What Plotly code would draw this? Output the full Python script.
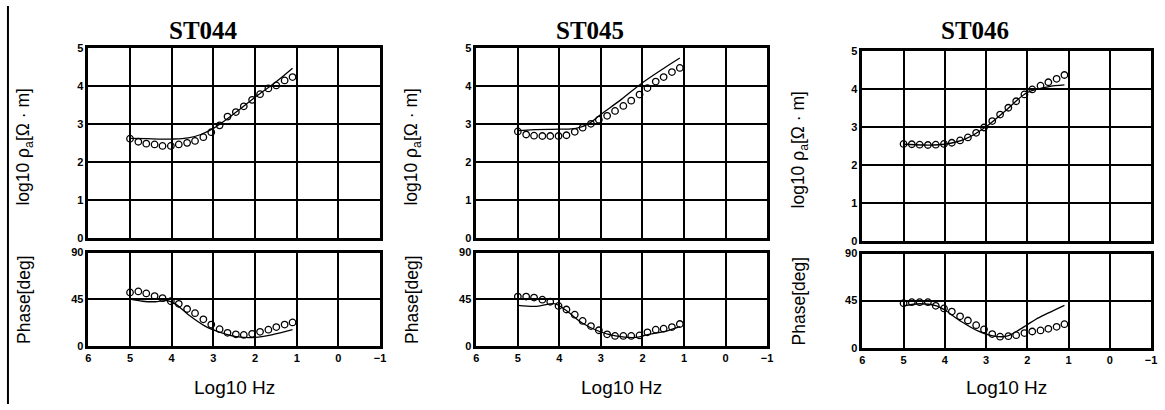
import plotly.graph_objects as go

# ---------------- data ----------------
stations = ["ST044", "ST045", "ST046"]

# observed log10 frequency
freq_obs = [5.0, 4.8, 4.61, 4.41, 4.22, 4.02, 3.83, 3.63, 3.44, 3.24, 3.05,
            2.85, 2.66, 2.46, 2.27, 2.07, 1.88, 1.68, 1.49, 1.29, 1.1]

rho_obs_044 = [2.61, 2.53, 2.48, 2.46, 2.42, 2.42, 2.46, 2.50, 2.55, 2.65, 2.78,
               2.96, 3.19, 3.31, 3.46, 3.63, 3.78, 3.93, 4.01, 4.14, 4.23]
rho_obs_045 = [2.80, 2.72, 2.69, 2.68, 2.68, 2.68, 2.70, 2.79, 2.90, 3.00, 3.11,
               3.21, 3.34, 3.47, 3.61, 3.77, 3.94, 4.11, 4.23, 4.36, 4.47]
rho_obs_046 = [2.55, 2.54, 2.53, 2.52, 2.53, 2.55, 2.58, 2.64, 2.72, 2.84, 2.98,
               3.15, 3.32, 3.50, 3.67, 3.85, 3.98, 4.08, 4.17, 4.26, 4.36]

phs_obs_044 = [51.5, 52.5, 50.5, 48, 46, 43, 40.5, 35.5, 31.5, 25.5, 20.5,
               16, 12.5, 11, 10.5, 11.5, 13.5, 15.5, 18, 20.5, 22.5]
phs_obs_045 = [47.5, 47.5, 46.5, 44.5, 42.5, 38.5, 35, 30, 24, 19, 15,
               11, 9.5, 9.5, 9.5, 10, 13, 15.5, 16.5, 18, 21]
phs_obs_046 = [42.5, 43.5, 43.5, 43.5, 40, 37.5, 34.5, 30, 26, 21.5, 17.5,
               13, 10.5, 11, 12, 14, 15.5, 16.5, 18, 20, 22.5]

# model curves
rho_mod_f_044 = [5.0, 4.6, 4.2, 4.0, 3.6, 3.3, 3.0, 2.5, 2.0, 1.5, 1.1]
rho_mod_044 = [2.62, 2.61, 2.60, 2.60, 2.63, 2.72, 2.88, 3.27, 3.70, 4.10, 4.46]
rho_mod_f_045 = [5.0, 4.6, 4.0, 3.6, 3.3, 3.0, 2.5, 2.0, 1.5, 1.1]
rho_mod_045 = [2.82, 2.85, 2.86, 2.88, 3.00, 3.25, 3.65, 4.08, 4.45, 4.73]
rho_mod_f_046 = [5.0, 4.5, 4.0, 3.5, 3.0, 2.5, 2.0, 1.5, 1.1]
rho_mod_046 = [2.54, 2.52, 2.54, 2.68, 3.00, 3.45, 3.90, 4.05, 4.10]

phs_mod_f_044 = [5.0, 4.7, 4.4, 4.1, 3.9, 3.6, 3.2, 2.8, 2.4, 2.0, 1.6, 1.1]
phs_mod_044 = [45, 43, 42.5, 43.5, 40, 30, 19, 12.5, 8.5, 8, 10.5, 15.5]
phs_mod_f_045 = [5.0, 4.55, 4.1, 3.85, 3.45, 3.05, 2.65, 2.15, 1.85, 1.45, 1.1]
phs_mod_045 = [39, 38, 40.5, 34.5, 22, 14, 9.5, 8, 11, 14, 18.5]
phs_mod_f_046 = [5.0, 4.6, 4.2, 4.0, 3.6, 3.2, 2.8, 2.5, 2.2, 2.0, 1.8, 1.5, 1.1]
phs_mod_046 = [40, 42, 40, 36, 25, 16, 11, 11, 17, 22, 27, 33, 40.5]

x_ticks = [6, 5, 4, 3, 2, 1, 0, -1]
rho_ticks = [0, 1, 2, 3, 4, 5]
phs_ticks = [0, 45, 90]

# ---------------- layout helpers ----------------
W, H = 1165, 410
def fx(p):
    return p / W
def fy(p):
    return 1 - p / H

# pixel boxes: (left, right, rho_top, rho_bottom, phs_top, phs_bottom, title_x, ylab_x)
boxes = [
    (86, 380, 43, 239, 254, 350, 202, 22),
    (477, 770, 43, 239, 254, 350, 592, 413),
    (866, 1157, 46, 242, 255, 352, 980, 803),
]

obs_rho = [rho_obs_044, rho_obs_045, rho_obs_046]
obs_phs = [phs_obs_044, phs_obs_045, phs_obs_046]
mod_rho = [(rho_mod_f_044, rho_mod_044), (rho_mod_f_045, rho_mod_045), (rho_mod_f_046, rho_mod_046)]
mod_phs = [(phs_mod_f_044, phs_mod_044), (phs_mod_f_045, phs_mod_045), (phs_mod_f_046, phs_mod_046)]

tickfont = dict(family="Liberation Sans, Arial", size=11, color="black", weight="bold")
labfont = dict(family="Liberation Sans, Arial", size=17.5, color="black")

fig = go.Figure()
layout = dict(
    width=W, height=H, margin=dict(l=0, r=0, t=0, b=0),
    paper_bgcolor="white", plot_bgcolor="white", showlegend=False,
)
annotations = []

marker = dict(symbol="circle-open", size=6.5, color="black", line=dict(width=1.3, color="black"))

for i, (l, r, rt, rb, pt, pb, tx, ylx) in enumerate(boxes):
    ax_r = 2 * i + 1
    ax_p = 2 * i + 2
    sr = "" if ax_r == 1 else str(ax_r)
    sp = str(ax_p)
    common_x = dict(
        domain=[fx(l), fx(r)], range=[6, -1], tickvals=x_ticks,
        showgrid=True, gridcolor="black", gridwidth=2,
        showline=True, linecolor="black", linewidth=2.5, mirror=True,
        ticks="", zeroline=False, tickfont=tickfont,
    )
    layout["xaxis" + sr] = dict(common_x, anchor="y" + sr, showticklabels=False)
    layout["xaxis" + sp] = dict(common_x, anchor="y" + sp, showticklabels=True)
    common_y = dict(
        showgrid=True, gridcolor="black", gridwidth=2,
        showline=True, linecolor="black", linewidth=2.5, mirror=True,
        ticks="", zeroline=False, tickfont=tickfont,
    )
    layout["yaxis" + sr] = dict(common_y, anchor="x" + sr, domain=[fy(rb), fy(rt)],
                                range=[0, 5], tickvals=rho_ticks)
    layout["yaxis" + sp] = dict(common_y, anchor="x" + sp, domain=[fy(pb), fy(pt)],
                                range=[0, 90], tickvals=phs_ticks)

    # model lines
    fig.add_trace(go.Scatter(x=mod_rho[i][0], y=mod_rho[i][1], mode="lines",
                             line=dict(color="black", width=1.3, shape="spline"),
                             xaxis="x" + sr, yaxis="y" + sr))
    fig.add_trace(go.Scatter(x=mod_phs[i][0], y=mod_phs[i][1], mode="lines",
                             line=dict(color="black", width=1.3, shape="spline"),
                             xaxis="x" + sp, yaxis="y" + sp))
    # observed points
    fig.add_trace(go.Scatter(x=freq_obs, y=obs_rho[i], mode="markers", marker=marker,
                             xaxis="x" + sr, yaxis="y" + sr))
    fig.add_trace(go.Scatter(x=freq_obs, y=obs_phs[i], mode="markers", marker=marker,
                             xaxis="x" + sp, yaxis="y" + sp))

    # title
    annotations.append(dict(text=stations[i], x=fx(tx), y=fy(25), xref="paper", yref="paper",
                            showarrow=False, xanchor="center", yanchor="middle",
                            font=dict(family="Liberation Serif, Times New Roman", size=25,
                                      color="black", weight="bold")))
    # y labels
    annotations.append(dict(text="log10 ρ<sub>a</sub>[Ω · m]", x=fx(ylx), y=fy((rt + rb) / 2 + 4),
                            xref="paper", yref="paper", showarrow=False, textangle=-90,
                            xanchor="center", yanchor="middle", font=labfont))
    annotations.append(dict(text="Phase[deg]", x=fx(ylx - 1), y=fy((pt + pb) / 2),
                            xref="paper", yref="paper", showarrow=False, textangle=-90,
                            xanchor="center", yanchor="middle", font=labfont))
    # x label
    annotations.append(dict(text="Log10 Hz", x=fx((l + r) / 2), y=fy(393),
                            xref="paper", yref="paper", showarrow=False,
                            xanchor="center", yanchor="middle",
                            font=dict(family="Liberation Sans, Arial", size=19, color="black")))

layout["annotations"] = annotations
layout["shapes"] = [dict(type="line", xref="paper", yref="paper", x0=fx(5), x1=fx(5),
                         y0=0, y1=1, line=dict(color="black", width=2))]
fig.update_layout(**layout)
fig.write_html("out.html")
